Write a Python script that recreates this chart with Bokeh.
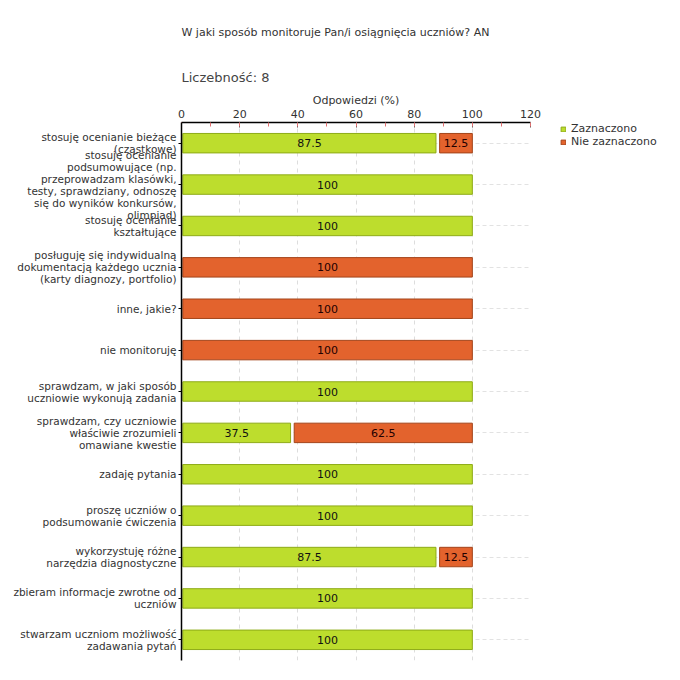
from bokeh.plotting import figure
from bokeh.layouts import row
from bokeh.models import (ColumnDataSource, FactorRange, Range1d, SingleIntervalTicker,
                          Legend, LegendItem, Title)
from bokeh.core.properties import value
from bokeh.embed import file_html
from bokeh.resources import INLINE

# ---------------- data ----------------
categories = [
    "stosuję ocenianie bieżące\n(cząstkowe)",
    "stosuję ocenianie\npodsumowujące (np.\nprzeprowadzam klasówki,\ntesty, sprawdziany, odnoszę\nsię do wyników konkursów,\nolimpiad)",
    "stosuję ocenianie\nkształtujące",
    "posługuję się indywidualną\ndokumentacją każdego ucznia\n(karty diagnozy, portfolio)",
    "inne, jakie?",
    "nie monitoruję",
    "sprawdzam, w jaki sposób\nuczniowie wykonują zadania",
    "sprawdzam, czy uczniowie\nwłaściwie zrozumieli\nomawiane kwestie",
    "zadaję pytania",
    "proszę uczniów o\npodsumowanie ćwiczenia",
    "wykorzystuję różne\nnarzędzia diagnostyczne",
    "zbieram informacje zwrotne od\nuczniów",
    "stwarzam uczniom możliwość\nzadawania pytań",
]
zaznaczono = [87.5, 100, 100, 0, 0, 0, 100, 37.5, 100, 100, 87.5, 100, 100]
nie_zaznaczono = [12.5, 0, 0, 100, 100, 100, 0, 62.5, 0, 0, 12.5, 0, 0]
series_names = ["Zaznaczono", "Nie zaznaczono"]
x_ticks = [0, 20, 40, 60, 80, 100, 120]
title_text = "W jaki sposób monitoruje Pan/i osiągnięcia uczniów?  AN"
count_text = "Liczebność: 8"
x_label = "Odpowiedzi (%)"

# ---------------- style ----------------
FONT = "DejaVu Sans"
GREEN, GREEN_EDGE = "#bddd2d", "#8eab17"
ORANGE, ORANGE_EDGE = "#e3632d", "#a3441a"
TEXT = "#333333"
START_GAP = 0.45   # small inset from the axis (in data units)
SEG_GAP = 1.25     # gap between stacked segments (in data units)
H = 672

g = dict(y=[], left=[], right=[], mid=[], txt=[])
o = dict(y=[], left=[], right=[], mid=[], txt=[])
for c, a, b in zip(categories, zaznaczono, nie_zaznaczono):
    if a > 0:
        l, r = START_GAP, a
        g["y"].append(c); g["left"].append(l); g["right"].append(r)
        g["mid"].append((l + r) / 2); g["txt"].append(f"{a:g}")
    if b > 0:
        l = a + SEG_GAP if a > 0 else START_GAP
        r = a + b
        o["y"].append(c); o["left"].append(l); o["right"].append(r)
        o["mid"].append((l + r) / 2); o["txt"].append(f"{b:g}")
gsrc = ColumnDataSource(g)
osrc = ColumnDataSource(o)

p = figure(width=544, height=H,
           y_range=FactorRange(factors=list(reversed(categories)), range_padding=0),
           x_range=Range1d(x_ticks[0], x_ticks[-1]),
           x_axis_location="above",
           output_backend="svg", toolbar_location=None,
           min_border_left=181, min_border_right=14,
           min_border_bottom=12, min_border_top=120,
           title=title_text)
p.outline_line_color = None
p.background_fill_color = "white"
p.border_fill_color = "white"

p.title.align = "left"
p.title.text_font = FONT
p.title.text_font_size = "11px"
p.title.text_font_style = "normal"
p.title.text_color = TEXT
p.title.standoff = 47

count_title = Title(text=count_text, align="left", text_font=FONT,
                    text_font_size="13px", text_font_style="normal",
                    text_color="#444444", standoff=11)
p.add_layout(count_title, "above")

# x axis (top)
xa = p.xaxis[0]
xa.ticker = SingleIntervalTicker(interval=20, num_minor_ticks=2)
xa.axis_label = x_label
xa.axis_label_text_font = FONT
xa.axis_label_text_font_size = "11px"
xa.axis_label_text_font_style = "normal"
xa.axis_label_text_color = TEXT
xa.axis_label_standoff = 0
xa.major_label_text_font = FONT
xa.major_label_text_font_size = "11px"
xa.major_label_text_color = TEXT
xa.major_label_standoff = 5
xa.axis_line_color = "black"
xa.axis_line_width = 1.5
xa.major_tick_in = 5
xa.major_tick_out = 0
xa.major_tick_line_color = "#555555"
xa.minor_tick_in = 4
xa.minor_tick_out = 0
xa.minor_tick_line_color = "#e07070"

# y axis (left)
ya = p.yaxis[0]
ya.major_label_text_font = FONT
ya.major_label_text_font_size = "10.5px"
ya.major_label_text_line_height = 1.0
ya.major_label_text_color = TEXT
ya.major_label_standoff = 2
ya.axis_line_color = "black"
ya.axis_line_width = 1.5
ya.major_tick_in = 0
ya.major_tick_out = 3
ya.major_tick_line_color = "black"

# grids
p.xgrid.ticker = SingleIntervalTicker(interval=20)
p.xgrid.grid_line_color = "#dddddd"
p.xgrid.grid_line_dash = "4 4"
p.ygrid.grid_line_color = "#e2e2e2"
p.ygrid.grid_line_dash = "4 3"

bar_style = dict(height=0.47, line_width=1)
rg = p.hbar(y="y", left="left", right="right", source=gsrc,
            fill_color=GREEN, line_color=GREEN_EDGE, **bar_style)
ro = p.hbar(y="y", left="left", right="right", source=osrc,
            fill_color=ORANGE, line_color=ORANGE_EDGE, **bar_style)

for src, col in ((gsrc, "#111111"), (osrc, "#220000")):
    p.text(x="mid", y="y", text="txt", source=src, text_align="center",
           text_baseline="middle", text_font=value(FONT), text_font_size="11px",
           text_color=col)

# ---------------- legend panel (separate, axis-less figure) ----------------
LW = 672 - 544
q = figure(width=LW, height=H, x_range=Range1d(0, 1), y_range=Range1d(0, 1),
           output_backend="svg", toolbar_location=None,
           min_border_left=16, min_border_right=0, min_border_top=113,
           min_border_bottom=0)
q.axis.visible = False
q.grid.visible = False
q.outline_line_color = None
q.border_fill_color = "white"
q.background_fill_color = "white"
# legend swatch renderers: one bar each, placed far outside the visible x range
lg = q.hbar(y=[0.5], left=[50], right=[51], height=0.1,
            fill_color=GREEN, line_color=GREEN_EDGE)
lo = q.hbar(y=[0.5], left=[50], right=[51], height=0.1,
            fill_color=ORANGE, line_color=ORANGE_EDGE)
legend = Legend(items=[LegendItem(label=series_names[0], renderers=[lg]),
                       LegendItem(label=series_names[1], renderers=[lo])],
                location="top_left", border_line_color=None,
                background_fill_color=None, glyph_width=6, glyph_height=6,
                label_height=13, label_standoff=5, spacing=0, padding=0, margin=0,
                label_text_font=FONT, label_text_font_size="11px",
                label_text_color=TEXT)
q.add_layout(legend)

layout = row(p, q)
open("out.html", "w").write(file_html(layout, INLINE))
